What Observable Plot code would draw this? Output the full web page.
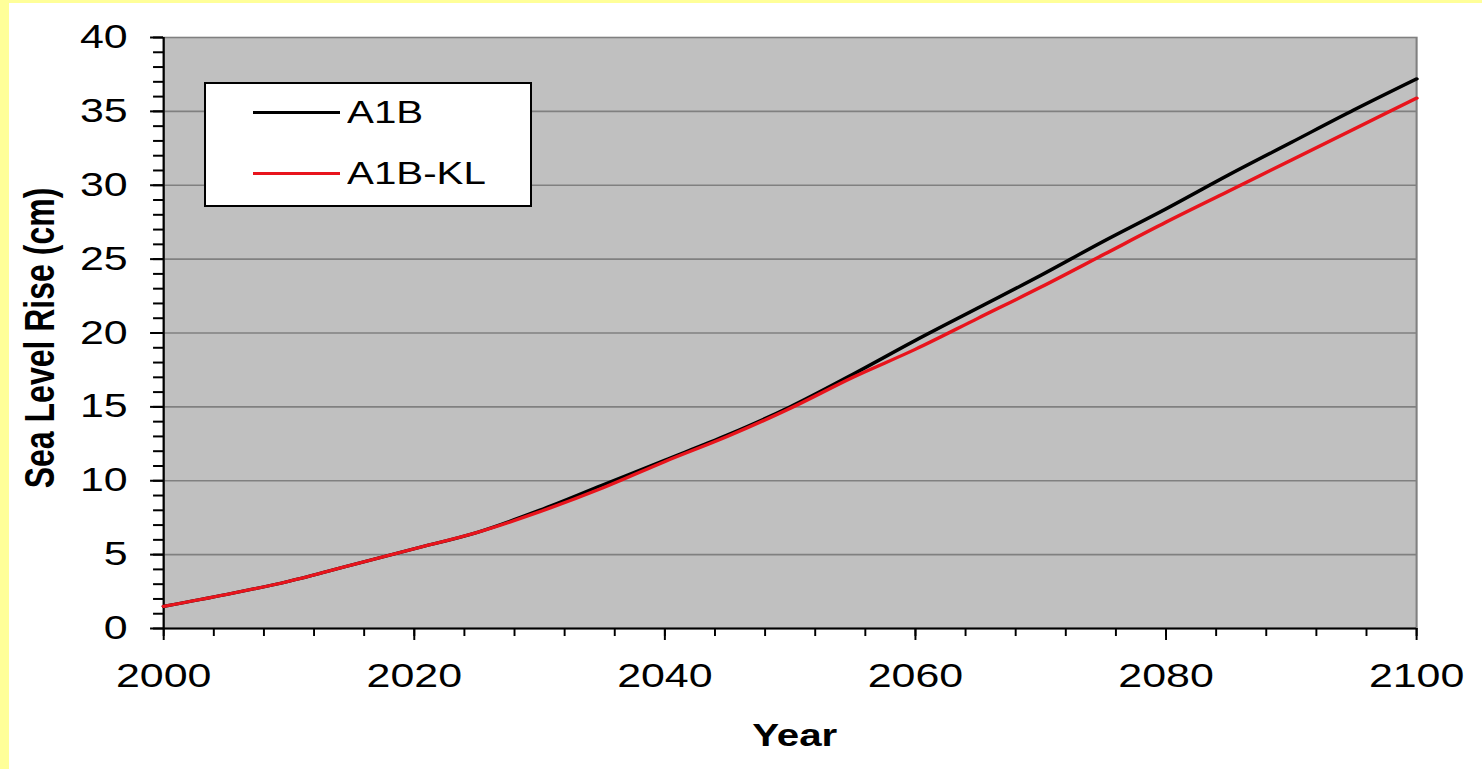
<!DOCTYPE html>
<html>
<head>
<meta charset="utf-8">
<script src="https://cdn.jsdelivr.net/npm/d3@7"></script>
<script src="https://cdn.jsdelivr.net/npm/@observablehq/plot@0.6"></script>
<style>
  html, body { margin: 0; padding: 0; background: #ffffff; }
  #frame { position: relative; width: 1473px; height: 766px; border-left: 9px solid #ffff99; border-top: 3px solid #ffff99; background: #fff; overflow: hidden; }
  #chart svg { display: block; }
  #legend { position: absolute; left: 195px; top: 79px; width: 324px; height: 121px; background: #fff; border: 2px solid #000; }
  .lg-line { position: absolute; left: 47px; width: 87px; height: 3px; }
  .lg-text { position: absolute; left: 141px; height: 31px; font: 31px "Liberation Sans", Arial, sans-serif; line-height: 31px; color: #000; transform: scaleX(1.3); transform-origin: left center; white-space: nowrap; }
</style>
</head>
<body>
<div id="frame">
  <div id="chart"></div>
  <div id="legend"></div>
</div>
<script>
// ---- data ----
const years = [2000, 2005, 2010, 2015, 2020, 2025, 2030, 2035, 2040, 2045, 2050, 2055, 2060, 2065, 2070, 2075, 2080, 2085, 2090, 2095, 2100];
const a1b   = [1.5, 2.3, 3.2, 4.3, 5.4, 6.5, 8.0, 9.7, 11.4, 13.1, 15.0, 17.2, 19.5, 21.7, 23.9, 26.2, 28.4, 30.7, 32.9, 35.1, 37.2];
const a1bKL = [1.5, 2.3, 3.2, 4.3, 5.4, 6.5, 7.9, 9.5, 11.3, 13.0, 14.9, 17.0, 18.9, 21.0, 23.1, 25.3, 27.5, 29.6, 31.7, 33.8, 35.9];
const seriesNames = ["A1B", "A1B-KL"];
const seriesColors = ["#000000", "#e8141c"];
const xDomain = [2000, 2100];
const yDomain = [0, 40];
const xMajorTicks = [2000, 2020, 2040, 2060, 2080, 2100];
const xMinorTicks = d3.range(2000, 2101, 4);
const yMajorTicks = [0, 5, 10, 15, 20, 25, 30, 35, 40];
const yMinorTicks = d3.range(0, 41, 1);
const xTitle = "Year";
const yTitle = "Sea Level Rise (cm)";

const rows = [];
seriesNames.forEach((name, s) => {
  const vals = s === 0 ? a1b : a1bKL;
  years.forEach((yr, i) => rows.push({series: name, year: yr, value: vals[i]}));
});

// horizontal stretch factor of the original picture
const S = 1.3;
const W = 1473 / S, H = 766;

const chart = Plot.plot({
  width: W,
  height: H,
  marginLeft: 118.5,
  marginRight: 50.8,
  marginTop: 34,
  marginBottom: 141,
  style: {fontFamily: "'Liberation Sans', Arial, sans-serif", color: "#000", background: "#fff", overflow: "visible"},
  x: {domain: xDomain, label: null},
  y: {domain: yDomain, label: null},
  color: {domain: seriesNames, range: seriesColors},
  marks: [
    Plot.frame({fill: "#c0c0c0", stroke: "#808080", strokeWidth: 1.6}),
    Plot.gridY(yMajorTicks.slice(1, -1), {stroke: "#808080", strokeOpacity: 1, strokeWidth: 1.6}),
    Plot.axisY(yMinorTicks, {tickSize: 7.7, tickFormat: () => "", stroke: "#000", strokeWidth: 2, label: null}),
    Plot.axisY(yMajorTicks, {tickSize: 10, tickPadding: 17.7, fontSize: 33, tickFormat: d => String(d), stroke: "#000", strokeWidth: 2, fill: "#000", label: null}),
    Plot.axisX(xMinorTicks, {tickSize: 8, tickFormat: () => "", stroke: "#000", strokeWidth: 1.5, label: null}),
    Plot.axisX(xMajorTicks, {tickSize: 12, tickPadding: 23, fontSize: 33, tickFormat: d => String(d), stroke: "#000", strokeWidth: 1.5, fill: "#000", label: null}),
    Plot.ruleX([xDomain[0]], {stroke: "#000", strokeWidth: 1.6}),
    Plot.ruleY([yDomain[0]], {stroke: "#000", strokeWidth: 2}),
    Plot.line(rows, {x: "year", y: "value", z: "series", stroke: "series", strokeWidth: 3.2, curve: "monotone-x"}),
    Plot.text([yTitle], {frameAnchor: "left", textAnchor: "middle", rotate: -90, dx: -94.7, dy: 5, fontSize: 32, fontWeight: "bold", fill: "#000", lineAnchor: "middle"}),
    Plot.text([xTitle], {frameAnchor: "bottom", textAnchor: "middle", dx: 3.5, dy: 108, fontSize: 31, fontWeight: "bold", fill: "#000", lineAnchor: "middle"})
  ]
});

chart.setAttribute("width", 1473);
chart.setAttribute("height", 766);
chart.setAttribute("preserveAspectRatio", "none");
chart.style.width = "1473px";
chart.style.height = "766px";
chart.style.maxWidth = "none";
document.getElementById("chart").appendChild(chart);

// legend
const legend = document.getElementById("legend");
const rowY = [28, 89];
seriesNames.forEach((name, i) => {
  const ln = document.createElement("div");
  ln.className = "lg-line";
  ln.style.top = (rowY[i] - 1.5) + "px";
  ln.style.background = seriesColors[i];
  legend.appendChild(ln);
  const tx = document.createElement("div");
  tx.className = "lg-text";
  tx.style.top = (rowY[i] - 15.5) + "px";
  tx.textContent = name;
  legend.appendChild(tx);
});
</script>
</body>
</html>
